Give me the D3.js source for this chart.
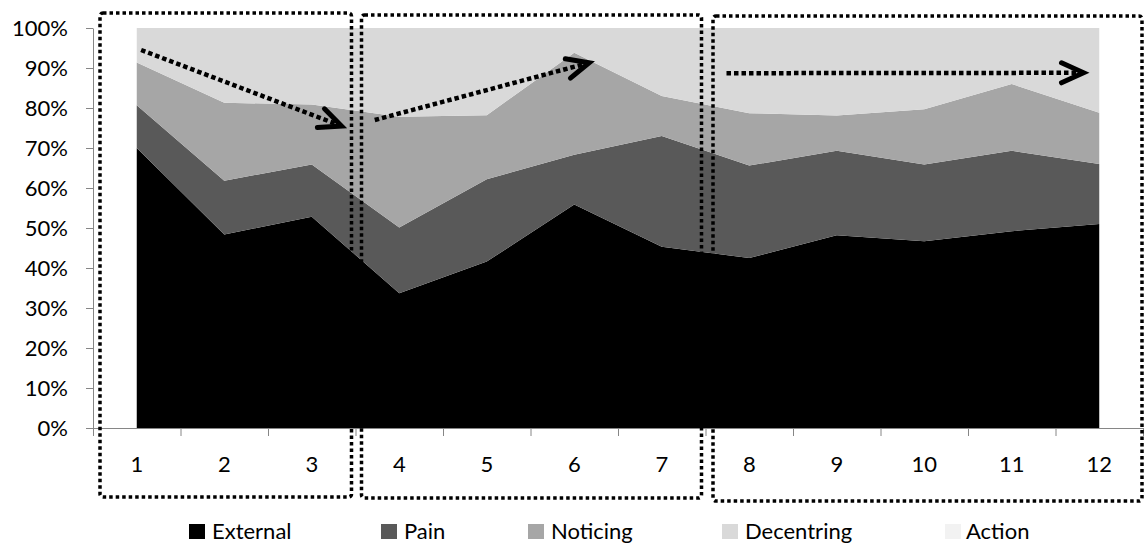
<!DOCTYPE html>
<html>
<head>
<meta charset="utf-8">
<script src="https://cdn.jsdelivr.net/npm/d3@7"></script>
<style>
  html, body { margin: 0; padding: 0; background: #fff; }
  svg { display: block; }
  text { font-family: Lato, "Open Sans", sans-serif; fill: #000; }
</style>
</head>
<body>
<svg id="chart" width="1144" height="545"></svg>
<script>
// ---- data (percent of sessions) ----
const categories = ["1","2","3","4","5","6","7","8","9","10","11","12"];
const seriesNames = ["External","Pain","Noticing","Decentring","Action"];
const external   = [70.0, 48.4, 52.8, 33.7, 41.6, 55.9, 45.3, 42.5, 48.2, 46.7, 49.2, 51.0];
const pain       = [10.7, 13.4, 13.1, 16.4, 20.6, 12.4, 27.7, 23.1, 21.1, 19.2, 20.1, 15.0];
const noticing   = [10.7, 19.5, 15.0, 27.7, 16.0, 25.5, 10.0, 13.1,  8.8, 13.8, 16.7, 12.8];
const decentring = [ 8.6, 18.7, 19.1, 22.2, 21.8,  6.2, 17.0, 21.3, 21.9, 20.3, 14.0, 21.2];
const action     = [ 0,    0,    0,    0,    0,    0,    0,    0,    0,    0,    0,    0  ];
const yTicks = [0,10,20,30,40,50,60,70,80,90,100];
const colors = ["#000000","#595959","#a6a6a6","#d9d9d9","#f2f2f2"];

// annotation groups (category ranges) and trend arrows (category, percent)
const groups = [[1,3],[4,7],[8,12]];
const arrows = [
  {x1: 1.05, y1: 94.5, x2: 3.34, y2: 75.5},
  {x1: 3.72, y1: 77.0, x2: 6.17, y2: 91.3},
  {x1: 7.74, y1: 88.7, x2: 11.82, y2: 88.8}
];

(function () {
const table = categories.map((c, i) => ({
  cat: c,
  External: external[i], Pain: pain[i], Noticing: noticing[i],
  Decentring: decentring[i], Action: action[i]
}));

const svg = d3.select("#chart");
const pLeft = 93, pRight = 1143, pTop = 28, pBottom = 428;

const x = d3.scaleBand().domain(categories).range([pLeft, pRight]).padding(0);
const xc = d => x(d) + x.bandwidth() / 2;
const xIdx = d3.scaleLinear().domain([1, 12]).range([xc("1"), xc("12")]);
const y = d3.scaleLinear().domain([0, 100]).range([pBottom, pTop]);

const stack = d3.stack().keys(seriesNames).order(d3.stackOrderNone).offset(d3.stackOffsetNone);
const layers = stack(table);

const area = d3.area()
  .x(d => xc(d.data.cat))
  .y0(d => y(d[0]))
  .y1(d => y(d[1]));

svg.append("g").selectAll("path")
  .data(layers)
  .join("path")
  .attr("d", area)
  .attr("fill", (d, i) => colors[i]);

// y axis
const yAxis = svg.append("g")
  .attr("transform", `translate(${pLeft},0)`)
  .call(d3.axisLeft(y).tickValues(yTicks).tickFormat(d => d + "%").tickSize(7).tickSizeOuter(0).tickPadding(18));
yAxis.select(".domain").attr("stroke", "#868686");
yAxis.selectAll(".tick line").attr("stroke", "#868686");
yAxis.selectAll(".tick text").attr("font-size", 22).attr("font-family", "Lato").attr("dy", "0.36em");

// x axis: boundary ticks
const xb = d3.scaleLinear().domain([0, 12]).range([pLeft, pRight]);
const xTickAxis = svg.append("g")
  .attr("transform", `translate(0,${pBottom})`)
  .call(d3.axisBottom(xb).tickValues(d3.range(13)).tickFormat("").tickSize(8).tickSizeOuter(0));
xTickAxis.select(".domain").attr("stroke", "#868686");
xTickAxis.selectAll(".tick line").attr("stroke", "#868686");

// x axis: labels
const xLab = svg.append("g")
  .attr("transform", `translate(0,${pBottom})`)
  .call(d3.axisBottom(x).tickSize(0).tickPadding(28));
xLab.select(".domain").remove();
xLab.selectAll(".tick text").attr("font-size", 22).attr("font-family", "Lato");

// dotted group boxes
const boxPad = [[7, 4, 13, 497], [6, 4, 15, 498], [7.5, 1, 16, 501]];
svg.append("g").selectAll("rect")
  .data(groups)
  .join("rect")
  .attr("x", (g, i) => x(String(g[0])) + boxPad[i][0])
  .attr("y", (g, i) => boxPad[i][2])
  .attr("width", (g, i) => (x(String(g[1])) + x.bandwidth() - boxPad[i][1]) - (x(String(g[0])) + boxPad[i][0]))
  .attr("height", (g, i) => boxPad[i][3] - boxPad[i][2])
  .attr("rx", 3)
  .attr("fill", "none")
  .attr("stroke", "#000")
  .attr("stroke-width", 3.5)
  .attr("stroke-dasharray", "3.5 3");

// trend arrows
const ag = svg.append("g");
arrows.forEach(a => {
  const X1 = xIdx(a.x1), Y1 = y(a.y1), X2 = xIdx(a.x2), Y2 = y(a.y2);
  const ang = Math.atan2(Y2 - Y1, X2 - X1);
  ag.append("line")
    .attr("x1", X1).attr("y1", Y1).attr("x2", X2 - 6 * Math.cos(ang)).attr("y2", Y2 - 6 * Math.sin(ang))
    .attr("stroke", "#000").attr("stroke-width", 4.5).attr("stroke-dasharray", "4.5 3");
  const L = 22, W = 10;
  const bx = X2 - L * Math.cos(ang), by = Y2 - L * Math.sin(ang);
  const px = -Math.sin(ang) * W, py = Math.cos(ang) * W;
  ag.append("path")
    .attr("d", `M${bx + px},${by + py}L${X2},${Y2}L${bx - px},${by - py}`)
    .attr("fill", "none").attr("stroke", "#000").attr("stroke-width", 5)
    .attr("stroke-linecap", "round").attr("stroke-linejoin", "miter");
});

// legend
const legendX = [189, 381, 528, 722, 945];
const legendTextX = [212, 404, 551, 745, 966];
const lg = svg.append("g");
seriesNames.forEach((s, i) => {
  lg.append("rect").attr("x", legendX[i]).attr("y", 524).attr("width", 16).attr("height", 15).attr("fill", colors[i]);
  lg.append("text").attr("x", legendTextX[i]).attr("y", 539).attr("font-size", 22).text(s);
});
})();
</script>
</body>
</html>
